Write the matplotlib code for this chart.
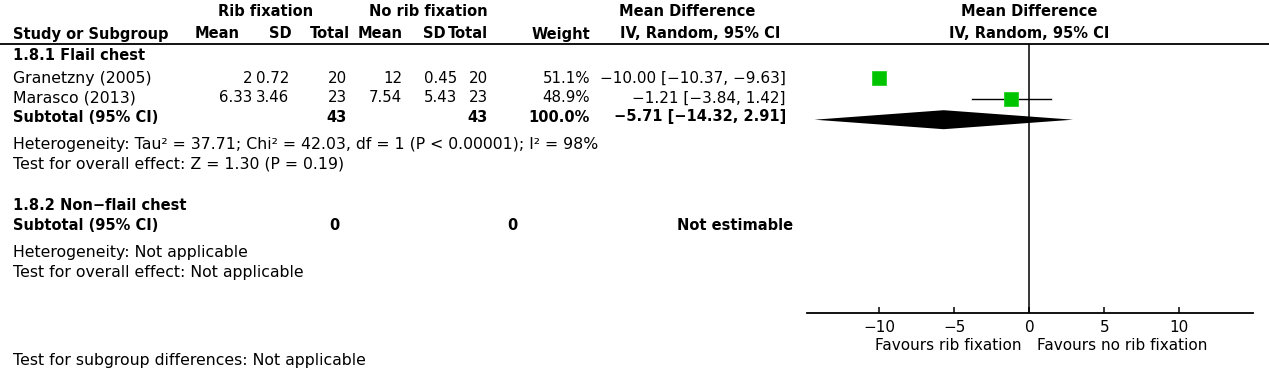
import matplotlib
matplotlib.use("Agg")
import matplotlib.pyplot as plt

# data
studies = ["Granetzny (2005)", "Marasco (2013)"]
rib_mean = ["2", "6.33"]
rib_sd = ["0.72", "3.46"]
rib_n = [20, 23]
no_mean = ["12", "7.54"]
no_sd = ["0.45", "5.43"]
no_n = [20, 23]
weights = [51.1, 48.9]
md = [-10.00, -1.21]
ci_lo = [-10.37, -3.84]
ci_hi = [-9.63, 1.42]
pooled = [-5.71, -14.32, 2.91]
ticks = [-10, -5, 0, 5, 10]

W, H = 1269, 368
FS = 11.3     # plain text
FSB = 10.5    # bold text
FSN = 10.8    # numbers
fig = plt.figure(figsize=(W / 100, H / 100), dpi=100)

# overlay axes in pixel units for the table
tab = fig.add_axes([0, 0, 1, 1])
tab.set_xlim(0, W)
tab.set_ylim(H, 0)
tab.axis("off")


def txt(x, y, s, ha="left", bold=False, size=None):
    if size is None:
        size = FSB if bold else FS
    tab.text(x, y, s, ha=ha, va="center", fontsize=size,
             fontweight="bold" if bold else "normal")


def neg(s):
    return s.replace("-", "\u2212")


# headers
txt(266, 12, "Rib fixation", "center", True)
txt(428, 12, "No rib fixation", "center", True)
txt(687, 12, "Mean Difference", "center", True)
txt(1029, 12, "Mean Difference", "center", True)
txt(13, 34, "Study or Subgroup", bold=True)
txt(240, 34, "Mean", "right", True)
txt(292, 34, "SD", "right", True)
txt(350, 34, "Total", "right", True)
txt(403, 34, "Mean", "right", True)
txt(446, 34, "SD", "right", True)
txt(488, 34, "Total", "right", True)
txt(590, 34, "Weight", "right", True)
txt(780, 34, "IV, Random, 95% CI", "right", True)
txt(1029, 34, "IV, Random, 95% CI", "center", True)
tab.plot([0, W], [44.3, 44.3], color="black", lw=1.3)

# subgroup 1
row_y = [78.5, 98]
txt(13, 55, "1.8.1 Flail chest", bold=True)
for i, name in enumerate(studies):
    y = row_y[i]
    txt(13, y, name)
    txt(252, y, rib_mean[i], "right", size=FSN)
    txt(289, y, rib_sd[i], "right", size=FSN)
    txt(347, y, str(rib_n[i]), "right", size=FSN)
    txt(402, y, no_mean[i], "right", size=FSN)
    txt(457, y, no_sd[i], "right", size=FSN)
    txt(488, y, str(no_n[i]), "right", size=FSN)
    txt(590, y, f"{weights[i]:.1f}%", "right", size=FSN)
    txt(786, y, neg(f"{md[i]:.2f} [{ci_lo[i]:.2f}, {ci_hi[i]:.2f}]"), "right", size=11)
txt(13, 117, "Subtotal (95% CI)", bold=True)
txt(347, 117, str(sum(rib_n)), "right", True)
txt(488, 117, str(sum(no_n)), "right", True)
txt(590, 117, f"{sum(weights):.1f}%", "right", True)
txt(786, 117, neg(f"{pooled[0]:.2f} [{pooled[1]:.2f}, {pooled[2]:.2f}]"), "right", True)
txt(13, 144, "Heterogeneity: Tau\u00b2 = 37.71; Chi\u00b2 = 42.03, df = 1 (P < 0.00001); I\u00b2 = 98%")
txt(13, 164, "Test for overall effect: Z = 1.30 (P = 0.19)")

# subgroup 2
txt(13, 206, "1.8.2 Non\u2212flail chest", bold=True)
txt(13, 225, "Subtotal (95% CI)", bold=True)
txt(339, 225, "0", "right", True)
txt(517, 225, "0", "right", True)
txt(793, 225, "Not estimable", "right", True)
txt(13, 252, "Heterogeneity: Not applicable")
txt(13, 272, "Test for overall effect: Not applicable")
txt(13, 360, "Test for subgroup differences: Not applicable")

# forest panel
x0, x1 = 806.7, 1253.3
ytop, ybot = 44.3, 313.3
ax = fig.add_axes([x0 / W, 1 - ybot / H, (x1 - x0) / W, (ybot - ytop) / H])
ax.set_xlim(-14.84, 14.93)
ax.set_ylim(ybot, ytop)
ax.patch.set_alpha(0)
for s in ["top", "left", "right"]:
    ax.spines[s].set_visible(False)
ax.spines["bottom"].set_linewidth(1.3)
ax.set_yticks([])
ax.set_xticks(ticks)
ax.set_xticklabels([neg(str(t)) for t in ticks])
ax.tick_params(axis="x", direction="in", length=4.5, width=1.1,
               labelsize=11, pad=4.5)
ax.axvline(0, color="black", lw=1.1)

sq_y = [77.7, 98.8]
for i in range(len(md)):
    ax.plot([ci_lo[i], ci_hi[i]], [sq_y[i], sq_y[i]], color="black", lw=1)
    ax.plot(md[i], sq_y[i], marker="s", markersize=9.5,
            color="#00C400", markeredgecolor="#22d022", markeredgewidth=0.6)
dy = 119.7
ax.fill([pooled[1], pooled[0], pooled[2], pooled[0]],
        [dy, dy - 9.5, dy, dy + 9.5], color="black", lw=0)

txt(1021.7, 346, "Favours rib fixation", "right", size=11)
txt(1037.3, 346, "Favours no rib fixation", "left", size=11)

fig.savefig("out.png", dpi=100)
